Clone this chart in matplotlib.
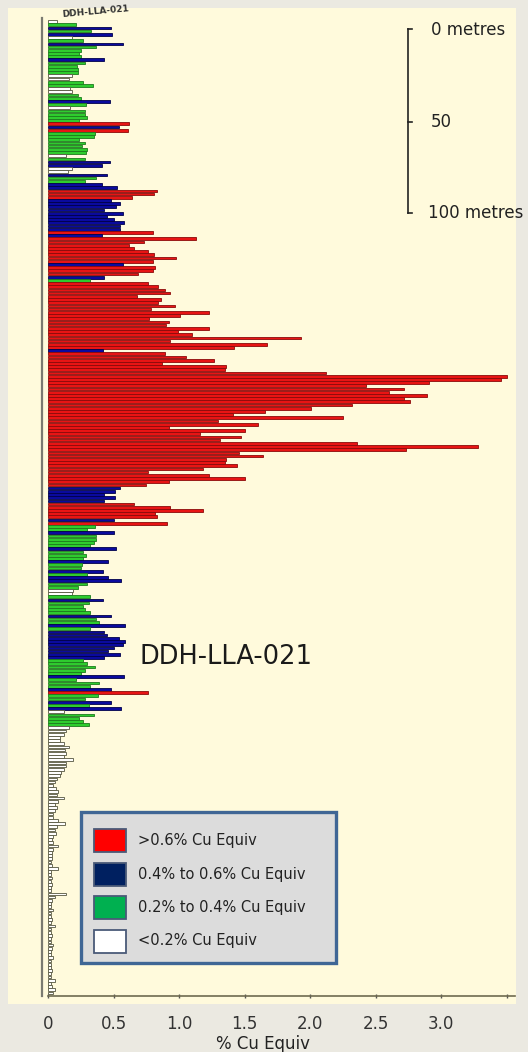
import numpy as np
import matplotlib.pyplot as plt
from matplotlib.patches import Rectangle
from matplotlib.lines import Line2D

# % Cu equivalent for each sample interval, collar (top) to end of hole (bottom)
cu_top = [0.07, 0.21, 0.48, 0.33, 0.49, 0.18, 0.27, 0.57, 0.37, 0.25,
          0.24, 0.25, 0.43, 0.28, 0.22, 0.23, 0.23, 0.18, 0.16, 0.27,
          0.34, 0.17, 0.18, 0.23, 0.25, 0.47, 0.29, 0.17, 0.28, 0.28,
          0.30, 0.24, 0.62, 0.54, 0.61, 0.36, 0.35, 0.24, 0.28, 0.26,
          0.30, 0.29, 0.14, 0.28, 0.47, 0.41, 0.18, 0.15, 0.45, 0.37]
cu_upper = [0.28, 0.41, 0.53, 0.83, 0.81, 0.64, 0.48, 0.55, 0.52, 0.43,
            0.57, 0.45, 0.50, 0.58, 0.55, 0.55, 0.80, 0.41, 1.13, 0.73,
            0.62, 0.66, 0.76, 0.81, 0.98, 0.80, 0.57, 0.82, 0.80, 0.69,
            0.43, 0.32]
cu_core1 = [0.76, 0.84, 0.89, 0.93, 0.68, 0.86, 0.84, 0.97, 0.79, 1.23,
            1.01, 0.77, 0.92, 0.90, 1.23, 0.99, 1.10, 1.93, 0.93, 1.67,
            1.42, 0.42, 0.89, 1.05, 1.27]
cu_core2 = [0.87, 1.36, 1.35, 2.12, 3.50, 3.46, 2.91, 2.43, 2.72, 2.60,
            2.89, 2.72, 2.76, 2.32, 2.01, 1.66, 1.41, 2.25, 1.30, 1.60,
            0.92, 1.50, 1.16, 1.47, 1.31, 2.36, 3.28, 2.73, 1.46, 1.64,
            1.36, 1.35, 1.44, 1.18, 0.76, 1.23, 1.50, 0.92, 0.75, 0.55,
            0.51, 0.43, 0.51, 0.43, 0.66, 0.93, 1.18, 0.82, 0.83]
cu_lower = [0.50, 0.91, 0.36, 0.30, 0.50, 0.37, 0.37, 0.35, 0.32, 0.52,
            0.27, 0.29, 0.27, 0.46, 0.26, 0.25, 0.42, 0.30, 0.46, 0.56,
            0.30, 0.23, 0.19, 0.18, 0.32, 0.42, 0.31, 0.27, 0.28, 0.32,
            0.48, 0.37, 0.39, 0.59, 0.32, 0.43, 0.45, 0.54, 0.59, 0.57,
            0.50, 0.46, 0.55, 0.43, 0.27, 0.30, 0.36, 0.28, 0.25, 0.58,
            0.21, 0.39, 0.32, 0.48]
cu_tail = [0.76, 0.38, 0.28, 0.48, 0.31, 0.56, 0.12, 0.35, 0.24, 0.27, 0.31,
           0.16, 0.14, 0.12, 0.09, 0.09, 0.12, 0.16, 0.13, 0.14, 0.12,
           0.19, 0.14, 0.14, 0.12, 0.10, 0.09, 0.07, 0.05, 0.04, 0.06,
           0.08, 0.07, 0.12, 0.08, 0.05, 0.07, 0.05, 0.04, 0.04, 0.08,
           0.13, 0.07, 0.05, 0.06, 0.04, 0.03, 0.04, 0.08, 0.04, 0.03, 0.03]
cu_bottom = [0.03, 0.02, 0.03, 0.08, 0.02, 0.02, 0.03, 0.02, 0.03, 0.02,
             0.02, 0.14, 0.05, 0.03, 0.02, 0.02, 0.04, 0.02, 0.02, 0.03,
             0.02, 0.05, 0.02, 0.02, 0.03, 0.02, 0.02, 0.04, 0.03, 0.02,
             0.02, 0.04, 0.02, 0.02, 0.02, 0.03, 0.02, 0.02, 0.05, 0.02,
             0.03, 0.05, 0.04]

grade_bins = [0.2, 0.4, 0.6]
bar_face = ['#ffffff', '#2ecc2e', '#0a0a9e', '#e81414']
bar_edge = ['#55553f', '#1d7a1d', '#00004a', '#8a0a0a']

legend_labels = ['>0.6% Cu Equiv', '0.4% to 0.6% Cu Equiv',
                 '0.2% to 0.4% Cu Equiv', '<0.2% Cu Equiv']
legend_colors = ['#ff0000', '#002060', '#00b050', '#ffffff']

tick_vals = [0, 0.5, 1.0, 1.5, 2.0, 2.5, 3.0, 3.5]
tick_text = ['0', '0.5', '1.0', '1.5', '2.0', '2.5', '3.0', '']
scale_text = ['0 metres', '50', '100 metres']

cu_equiv = np.array(cu_top + cu_upper + cu_core1 + cu_core2 + cu_lower + cu_tail + cu_bottom)
depth = np.arange(len(cu_equiv))
grade = np.digitize(cu_equiv, grade_bins)

W, H = 528, 1052
def fx(x): return x / W
def fy(y): return 1 - y / H

fig = plt.figure(figsize=(W / 100, H / 100), dpi=100, facecolor='#ebe9e1')
fig.patches.append(Rectangle((fx(8), fy(1004)), fx(516) - fx(8), fy(8) - fy(1004),
                             transform=fig.transFigure, facecolor='#fffadc',
                             edgecolor='none', zorder=-5))

ax = fig.add_axes([fx(42), fy(996), fx(515) - fx(42), fy(18) - fy(996)])
ax.set_facecolor('none')
ax.set_zorder(1)

ax.barh(depth, cu_equiv, height=0.85,
        color=[bar_face[g] for g in grade],
        edgecolor=[bar_edge[g] for g in grade], linewidth=0.6)

# first bar centre ~3.5px below top, last ~3px above the axis line
n = len(cu_equiv)
pitch = (993 - 21.5) / (n - 1)
ax.set_ylim(n - 1 + 3 / pitch, -3.5 / pitch)
xmax = 467 / 131
ax.set_xlim(-6 / 131, xmax)

for s in ['top', 'right']:
    ax.spines[s].set_visible(False)
ax.spines['left'].set_color('#7a7a70')
ax.spines['left'].set_linewidth(1.6)
ax.spines['bottom'].set_color('#6e6a50')
ax.spines['bottom'].set_linewidth(1.2)
ax.spines['bottom'].set_bounds(0, xmax)

ax.set_yticks([])
ax.set_xticks(tick_vals)
ax.set_xticklabels(tick_text)
ax.tick_params(axis='x', direction='inout', length=3, width=1, color='#555555',
               labelsize=12, labelcolor='#333333', pad=12)
ax.set_xlabel('% Cu Equiv', fontsize=12, color='#222222')
ax.xaxis.set_label_coords((263 - 42) / 473, -0.040)

# hole name labels
fig.text(fx(62), fy(15), 'DDH-LLA-021', rotation=5, fontsize=6.5, fontweight='bold',
         color='#333333', ha='left', va='center', rotation_mode='anchor')
fig.text(fx(140), fy(657), 'DDH-LLA-021', fontsize=18.5, color='#1a1a1a',
         ha='left', va='center')

# depth scale bar
sx = 408
fig.add_artist(Line2D([fx(sx), fx(sx)], [fy(29), fy(213)], transform=fig.transFigure,
                      color='#222222', lw=1.2))
for yy in [29, 122, 213]:
    fig.add_artist(Line2D([fx(sx), fx(sx + 4)], [fy(yy), fy(yy)], transform=fig.transFigure,
                          color='#222222', lw=1.2))
for txt, xx, yy in zip(scale_text, [431, 431, 428], [30, 122, 213]):
    fig.text(fx(xx), fy(yy), txt, fontsize=12, color='#222222', ha='left', va='center')

# legend box
fig.patches.append(Rectangle((fx(81), fy(963)), fx(336) - fx(81), fy(812) - fy(963),
                             transform=fig.transFigure, facecolor='#dcdcdc',
                             edgecolor='#3f6695', linewidth=2.4, zorder=3))
for i, (lab, col) in enumerate(zip(legend_labels, legend_colors)):
    yc = 840.5 + i * 33.5
    fig.patches.append(Rectangle((fx(94), fy(yc + 11.5)), fx(126) - fx(94), fy(yc - 11.5) - fy(yc + 11.5),
                                 transform=fig.transFigure, facecolor=col,
                                 edgecolor='#4a5a78', linewidth=1.3, zorder=4))
    fig.text(fx(138), fy(yc), lab, fontsize=10.5, color='#222222',
             ha='left', va='center', zorder=5)

fig.savefig('out.png', dpi=100, facecolor=fig.get_facecolor())
